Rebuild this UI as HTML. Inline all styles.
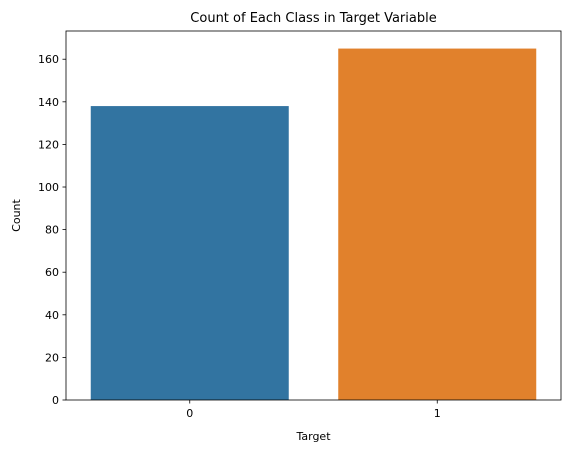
<!DOCTYPE html>
<html><head><meta charset="utf-8"><style>
body{margin:0;background:#fff;}
svg{display:block;font-family:"DejaVu Sans","Liberation Sans",sans-serif;}
</style></head><body>
<svg id="chart" width="571" height="453"></svg>
<script>
const categories = ["0", "1"];
const counts = [138, 165];
const yTicks = [0, 20, 40, 60, 80, 100, 120, 140, 160];
const barColors = ["#3274a1", "#e1812c"];

const NS = "http://www.w3.org/2000/svg";
const svg = document.getElementById("chart");
const L = 66, R = 561, T = 31, B = 400;
const yMax = Math.max(...counts) * 1.05;
const y = v => B - (v / yMax) * (B - T);
const band = (R - L) / categories.length;
const x = i => L + band * (i + 0.5);

function mk(tag, attrs, text) {
  const e = document.createElementNS(NS, tag);
  for (const k in attrs) e.setAttribute(k, attrs[k]);
  if (text !== undefined) e.textContent = text;
  svg.appendChild(e);
  return e;
}

counts.forEach((v, i) => {
  const bw = band * 0.8;
  const r = mk("rect", {x: x(i) - bw / 2, y: y(v), width: bw, height: B - y(v), fill: barColors[i]});
  
  
});

yTicks.forEach(t => {
  const l = mk("line", {x1: L - 3.5, x2: L, y1: y(t), y2: y(t), stroke: "#000", "stroke-width": 0.8});
  
  
  const tx = mk("text", {x: L - 7, y: y(t) + 4, "text-anchor": "end", "font-size": 11}, String(t));
  
  
});

categories.forEach((c, i) => {
  const l = mk("line", {x1: x(i), x2: x(i), y1: B, y2: B + 3.5, stroke: "#000", "stroke-width": 0.8});
  
  
  const tx = mk("text", {x: x(i), y: B + 17, "text-anchor": "middle", "font-size": 11}, c);
  
  
});

const frame = mk("rect", {x: L, y: T, width: R - L, height: B - T, fill: "none", stroke: "#000", "stroke-width": 0.8});



const title = mk("text", {x: (L + R) / 2, y: 22, "text-anchor": "middle", "font-size": 13}, "Count of Each Class in Target Variable");



const xt = mk("text", {x: (L + R) / 2, y: 440, "text-anchor": "middle", "font-size": 11}, "Target");



const yt = mk("text", {x: 20, y: (T + B) / 2, "text-anchor": "middle", "font-size": 11, transform: "rotate(-90 20 " + (T + B) / 2 + ")"}, "Count");


</script>
</body></html>
